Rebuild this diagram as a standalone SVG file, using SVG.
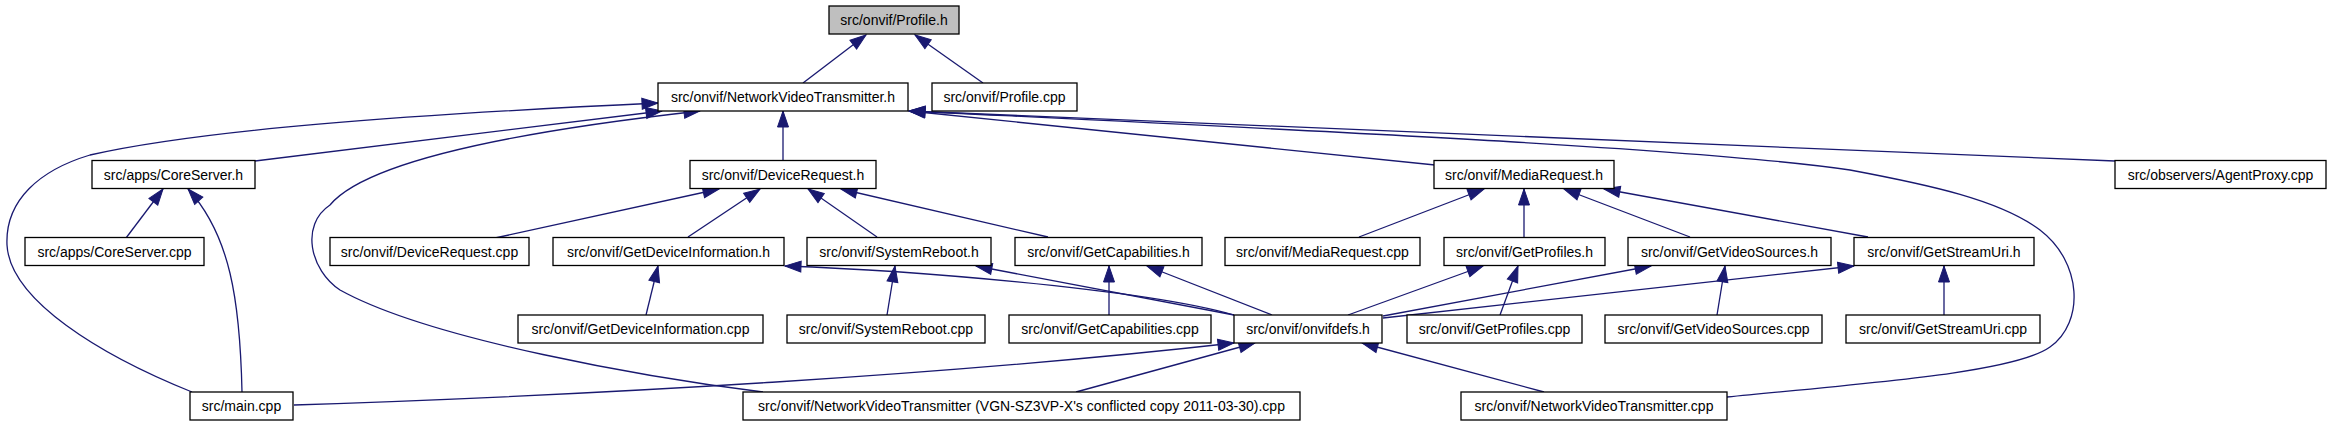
<svg xmlns="http://www.w3.org/2000/svg" width="2331" height="427" viewBox="0 0 2331 427">
<style>
.n rect{fill:#fff;stroke:#000;stroke-width:1.3}
.n.root rect{fill:#bfbfbf}
.n text{font-family:"Liberation Sans",Arial,sans-serif;font-size:14px;fill:#000;text-anchor:middle}
.e path{fill:none;stroke:#191970;stroke-width:1.3;marker-end:url(#ah)}
</style>
<defs>
<marker id="ah" markerUnits="userSpaceOnUse" markerWidth="17" markerHeight="12" refX="16" refY="5.5" orient="auto" overflow="visible">
<path d="M0,0 L16,5.5 L0,11 z" fill="#191970" stroke="#191970" stroke-width="1"/>
</marker>
</defs>
<rect width="2331" height="427" fill="#fff"/>
<g id="edges" class="e">
<path d="M803,83 L866,35"/>
<path d="M983,83 L915,35"/>
<path d="M255,161 L662,111"/>
<path d="M192,392 C100,355 10,300 7,245 C5,200 40,170 90,155 C200,130 400,115 658,103"/>
<path d="M763,392 C650,378 430,340 340,290 C310,270 300,225 330,205 C355,175 440,140 700,111"/>
<path d="M783,160 L783,111"/>
<path d="M1435,165 L909,111"/>
<path d="M2115,161 L909,111"/>
<path d="M1727,397 C1880,382 2015,372 2050,347 C2085,322 2082,262 2040,230 C2000,200 1930,185 1850,170 C1700,148 1300,130 909,111"/>
<path d="M126,238 L163,189"/>
<path d="M242,392 C240,300 230,235 188,189"/>
<path d="M495,238 L719,189"/>
<path d="M688,237 L760,189"/>
<path d="M877,237 L808,189"/>
<path d="M1048,237 L841,189"/>
<path d="M1359,237 L1484,189"/>
<path d="M1524,237 L1524,189"/>
<path d="M1690,237 L1564,189"/>
<path d="M1868,237 L1604,189"/>
<path d="M646,315 L658,266"/>
<path d="M1234,315 C1140,288 900,270 785,266"/>
<path d="M887,315 L895,266"/>
<path d="M1234,315 L976,266"/>
<path d="M1109,315 L1109,266"/>
<path d="M1272,315 L1147,266"/>
<path d="M1348,315 L1483,266"/>
<path d="M1500,315 L1518,266"/>
<path d="M1383,316 L1651,266"/>
<path d="M1717,315 L1725,266"/>
<path d="M1383,318 L1854,266"/>
<path d="M1944,315 L1944,266"/>
<path d="M294,405 C600,395 950,375 1234,343"/>
<path d="M1076,392 L1255,343"/>
<path d="M1544,392 L1362,343"/>
</g>
<g id="profile_h" class="n root"><rect x="829" y="6" width="130" height="28"/><text x="894" y="25">src/onvif/Profile.h</text></g>
<g id="nvt_h" class="n"><rect x="658" y="83" width="250" height="28"/><text x="783" y="102">src/onvif/NetworkVideoTransmitter.h</text></g>
<g id="profile_cpp" class="n"><rect x="932" y="83" width="145" height="28"/><text x="1004.5" y="102">src/onvif/Profile.cpp</text></g>
<g id="coreserver_h" class="n"><rect x="92" y="160.5" width="163" height="28"/><text x="173.5" y="179.5">src/apps/CoreServer.h</text></g>
<g id="devicerequest_h" class="n"><rect x="690" y="160.5" width="186" height="28"/><text x="783" y="179.5">src/onvif/DeviceRequest.h</text></g>
<g id="mediarequest_h" class="n"><rect x="1434" y="160.5" width="180" height="28"/><text x="1524" y="179.5">src/onvif/MediaRequest.h</text></g>
<g id="agentproxy_cpp" class="n"><rect x="2115" y="160.5" width="211" height="28"/><text x="2220.5" y="179.5">src/observers/AgentProxy.cpp</text></g>
<g id="coreserver_cpp" class="n"><rect x="25" y="237.5" width="179" height="28"/><text x="114.5" y="256.5">src/apps/CoreServer.cpp</text></g>
<g id="devicerequest_cpp" class="n"><rect x="330" y="237.5" width="199" height="28"/><text x="429.5" y="256.5">src/onvif/DeviceRequest.cpp</text></g>
<g id="getdeviceinformation_h" class="n"><rect x="553" y="237.5" width="231" height="28"/><text x="668.5" y="256.5">src/onvif/GetDeviceInformation.h</text></g>
<g id="systemreboot_h" class="n"><rect x="807" y="237.5" width="184" height="28"/><text x="899" y="256.5">src/onvif/SystemReboot.h</text></g>
<g id="getcapabilities_h" class="n"><rect x="1015" y="237.5" width="187" height="28"/><text x="1108.5" y="256.5">src/onvif/GetCapabilities.h</text></g>
<g id="mediarequest_cpp" class="n"><rect x="1225" y="237.5" width="195" height="28"/><text x="1322.5" y="256.5">src/onvif/MediaRequest.cpp</text></g>
<g id="getprofiles_h" class="n"><rect x="1444" y="237.5" width="161" height="28"/><text x="1524.5" y="256.5">src/onvif/GetProfiles.h</text></g>
<g id="getvideosources_h" class="n"><rect x="1628" y="237.5" width="203" height="28"/><text x="1729.5" y="256.5">src/onvif/GetVideoSources.h</text></g>
<g id="getstreamuri_h" class="n"><rect x="1854" y="237.5" width="180" height="28"/><text x="1944" y="256.5">src/onvif/GetStreamUri.h</text></g>
<g id="getdeviceinformation_cpp" class="n"><rect x="518" y="315" width="245" height="28"/><text x="640.5" y="334">src/onvif/GetDeviceInformation.cpp</text></g>
<g id="systemreboot_cpp" class="n"><rect x="787" y="315" width="198" height="28"/><text x="886" y="334">src/onvif/SystemReboot.cpp</text></g>
<g id="getcapabilities_cpp" class="n"><rect x="1009" y="315" width="202" height="28"/><text x="1110" y="334">src/onvif/GetCapabilities.cpp</text></g>
<g id="onvifdefs_h" class="n"><rect x="1234" y="315" width="148" height="28"/><text x="1308" y="334">src/onvif/onvifdefs.h</text></g>
<g id="getprofiles_cpp" class="n"><rect x="1407" y="315" width="175" height="28"/><text x="1494.5" y="334">src/onvif/GetProfiles.cpp</text></g>
<g id="getvideosources_cpp" class="n"><rect x="1605" y="315" width="217" height="28"/><text x="1713.5" y="334">src/onvif/GetVideoSources.cpp</text></g>
<g id="getstreamuri_cpp" class="n"><rect x="1846" y="315" width="194" height="28"/><text x="1943" y="334">src/onvif/GetStreamUri.cpp</text></g>
<g id="main_cpp" class="n"><rect x="190" y="392" width="103" height="28"/><text x="241.5" y="411">src/main.cpp</text></g>
<g id="nvt_conflicted_cpp" class="n"><rect x="743" y="392" width="557" height="28"/><text x="1021.5" y="411">src/onvif/NetworkVideoTransmitter (VGN-SZ3VP-X's conflicted copy 2011-03-30).cpp</text></g>
<g id="nvt_cpp" class="n"><rect x="1461" y="392" width="266" height="28"/><text x="1594" y="411">src/onvif/NetworkVideoTransmitter.cpp</text></g>
</svg>
